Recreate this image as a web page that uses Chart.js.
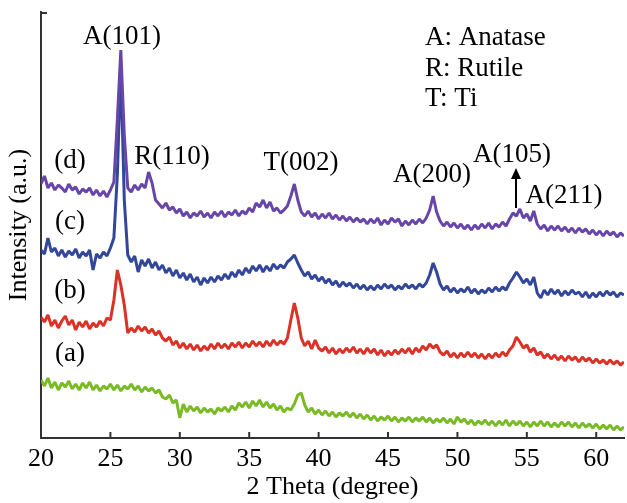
<!DOCTYPE html>
<html>
<head>
<meta charset="utf-8">
<script src="https://cdn.jsdelivr.net/npm/chart.js@4.4.1/dist/chart.umd.min.js"></script>
<style>
    body {
        margin: 0;
        background: #fff;
    }
</style>
</head>
<body>
<canvas id="xrdChart" width="627" height="503"></canvas>
<script>
// 2 theta positions (degree), one point every 0.25
let angles = [
    20, 20.25, 20.5, 20.75, 21, 21.25, 21.5, 21.75, 22, 22.25, 22.5, 22.75, 23, 23.25, 23.5, 23.75,
    24, 24.25, 24.5, 24.75, 25, 25.25, 25.5, 25.75, 26, 26.25, 26.5, 26.75, 27, 27.25, 27.5, 27.75,
    28, 28.25, 28.5, 28.75, 29, 29.25, 29.5, 29.75, 30, 30.25, 30.5, 30.75, 31, 31.25, 31.5, 31.75,
    32, 32.25, 32.5, 32.75, 33, 33.25, 33.5, 33.75, 34, 34.25, 34.5, 34.75, 35, 35.25, 35.5, 35.75,
    36, 36.25, 36.5, 36.75, 37, 37.25, 37.5, 37.75, 38, 38.25, 38.5, 38.75, 39, 39.25, 39.5, 39.75,
    40, 40.25, 40.5, 40.75, 41, 41.25, 41.5, 41.75, 42, 42.25, 42.5, 42.75, 43, 43.25, 43.5, 43.75,
    44, 44.25, 44.5, 44.75, 45, 45.25, 45.5, 45.75, 46, 46.25, 46.5, 46.75, 47, 47.25, 47.5, 47.75,
    48, 48.25, 48.5, 48.75, 49, 49.25, 49.5, 49.75, 50, 50.25, 50.5, 50.75, 51, 51.25, 51.5, 51.75,
    52, 52.25, 52.5, 52.75, 53, 53.25, 53.5, 53.75, 54, 54.25, 54.5, 54.75, 55, 55.25, 55.5, 55.75,
    56, 56.25, 56.5, 56.75, 57, 57.25, 57.5, 57.75, 58, 58.25, 58.5, 58.75, 59, 59.25, 59.5, 59.75,
    60, 60.25, 60.5, 60.75, 61, 61.25, 61.5, 61.75, 62
];

// intensities (a.u., curves already stacked with offsets)
let curveD = [
    254, 262, 250, 255, 248, 253, 250, 246, 254, 248, 251, 244, 249, 246, 250, 243,
    248, 242, 247, 241, 248, 256, 318, 388, 303, 250, 246, 253, 248, 254, 250, 266,
    255, 238, 234, 230, 235, 228, 231, 225, 229, 222, 226, 220, 225, 222, 227, 221,
    225, 220, 226, 222, 227, 221, 226, 223, 228, 222, 227, 224, 230, 226, 235, 231,
    238, 230, 236, 227, 230, 225, 228, 232, 242, 254, 238, 226, 222, 227, 221, 225,
    219, 224, 220, 225, 219, 223, 218, 222, 217, 221, 216, 220, 216, 219, 214, 219,
    215, 220, 213, 218, 214, 220, 216, 219, 212, 217, 213, 218, 214, 219, 215, 220,
    228, 242, 226, 217, 212, 216, 211, 215, 210, 214, 209, 213, 208, 213, 209, 214,
    210, 215, 209, 214, 211, 216, 212, 219, 225, 222, 229, 220, 224, 217, 227, 214,
    209, 213, 207, 212, 208, 212, 207, 211, 206, 210, 205, 210, 206, 209, 204, 208,
    203, 207, 202, 207, 203, 206, 201, 205, 202
];
let curveC = [
    188, 184, 200, 186, 190, 182, 188, 181, 187, 183, 189, 180, 186, 182, 188, 168,
    184, 180, 186, 182, 190, 200, 263, 373, 238, 183, 176, 182, 166, 178, 172, 179,
    170, 176, 168, 173, 165, 170, 162, 168, 160, 165, 158, 164, 156, 161, 153, 160,
    155, 161, 156, 162, 158, 164, 159, 166, 161, 168, 163, 170, 165, 172, 167, 173,
    166, 172, 167, 174, 169, 173, 170, 176, 179, 183, 175, 168, 162, 166, 159, 163,
    157, 161, 155, 159, 153, 157, 151, 156, 152, 155, 150, 154, 149, 153, 148, 152,
    148, 153, 149, 154, 150, 153, 148, 152, 149, 154, 150, 153, 149, 154, 151, 155,
    163, 175, 166, 154, 148, 152, 146, 150, 145, 149, 146, 151, 145, 149, 144, 148,
    145, 150, 146, 151, 147, 151, 148, 155, 160, 166, 161, 155, 159, 153, 161, 145,
    140, 148, 143, 149, 144, 148, 142, 147, 143, 148, 144, 146, 141, 146, 140, 145,
    141, 146, 142, 147, 143, 146, 141, 145, 143
];
let curveB = [
    121, 116, 123, 112, 118, 110, 117, 122, 113, 118, 108, 116, 111, 117, 109, 115,
    111, 117, 112, 120, 118, 138, 168, 153, 133, 105, 110, 106, 112, 107, 111, 105,
    109, 103, 107, 100, 97, 101, 93, 97, 90, 95, 89, 94, 88, 93, 87, 92,
    88, 94, 89, 95, 90, 94, 89, 95, 91, 96, 90, 95, 91, 97, 92, 96,
    91, 97, 92, 98, 93, 97, 94, 100, 118, 135, 120, 100, 92, 97, 89, 98,
    90, 87, 91, 85, 90, 84, 89, 85, 90, 86, 91, 85, 89, 84, 90, 85,
    89, 83, 88, 82, 87, 83, 88, 84, 89, 85, 90, 84, 90, 86, 92, 88,
    94, 90, 93, 86, 83, 87, 81, 85, 80, 85, 81, 86, 81, 85, 80, 84,
    79, 84, 80, 85, 81, 86, 82, 88, 92, 101, 96, 90, 93, 86, 90, 83,
    86, 80, 84, 79, 83, 78, 82, 77, 82, 78, 81, 76, 81, 77, 80, 75,
    79, 75, 78, 74, 78, 74, 77, 73, 76
];
let curveA = [
    58, 52, 60, 50, 56, 48, 55, 51, 57, 49, 54, 48, 55, 50, 56, 48,
    53, 47, 52, 49, 54, 48, 53, 47, 52, 49, 54, 48, 52, 46, 51, 47,
    50, 45, 48, 41, 39, 43, 35, 38, 20, 34, 26, 32, 27, 31, 25, 30,
    26, 29, 24, 30, 27, 31, 26, 32, 28, 35, 31, 36, 30, 37, 32, 38,
    31, 36, 30, 34, 28, 32, 26, 30, 28, 34, 43, 45, 33, 26, 30, 24,
    28, 23, 27, 22, 26, 21, 25, 22, 26, 21, 25, 20, 24, 19, 23, 18,
    22, 17, 21, 18, 22, 17, 21, 16, 20, 17, 21, 16, 20, 17, 21, 16,
    20, 15, 19, 16, 20, 15, 19, 14, 21, 16, 19, 14, 18, 13, 17, 14,
    18, 13, 17, 12, 17, 13, 18, 12, 17, 13, 17, 12, 16, 11, 16, 12,
    17, 12, 16, 11, 15, 11, 16, 12, 16, 11, 15, 10, 15, 11, 14, 10,
    14, 9, 13, 9, 13, 8, 12, 8, 11
];

let tickValues = [20, 25, 30, 35, 40, 45, 50, 55, 60];

// peak names and legend, placed in data units (degree, intensity)
let peakLabels = [
    { text: 'A(101)', x: 25.84, y: 401, align: 'center' },
    { text: 'R(110)', x: 29.44, y: 281, align: 'center' },
    { text: 'T(002)', x: 38.73, y: 275, align: 'center' },
    { text: 'A(200)', x: 48.17, y: 263, align: 'center' },
    { text: 'A(105)', x: 53.93, y: 283, align: 'center' },
    { text: 'A(211)', x: 57.68, y: 242, align: 'center' },
    { text: 'A: Anatase', x: 47.66, y: 400, align: 'left' },
    { text: 'R: Rutile', x: 47.66, y: 369, align: 'left' },
    { text: 'T: Ti', x: 47.66, y: 339, align: 'left' },
    { text: '(d)', x: 22.09, y: 277, align: 'center' },
    { text: '(c)', x: 22.09, y: 216, align: 'center' },
    { text: '(b)', x: 22.09, y: 147, align: 'center' },
    { text: '(a)', x: 22.09, y: 84, align: 'center' }
];
let arrowA105 = { x: 54.22, from: 230, to: 270 };

const FONT = 'Liberation Serif, Times New Roman, serif';

function toPoints(values) {
    let points = [];
    for (let i = 0; i < values.length; i++) {
        points.push({ x: angles[i], y: values[i] });
    }
    return points;
}

function lineSet(values, color) {
    return {
        data: toPoints(values),
        borderColor: color,
        backgroundColor: color,
        borderWidth: 3,
        borderJoinStyle: 'bevel',
        pointRadius: 0,
        tension: 0,
        fill: false
    };
}

/*---------------------------labels, arrow, inward ticks---------------------------*/

const decorPlugin = {
    id: 'decor',
    afterDraw(chart) {
        let ctx = chart.ctx;
        let xs = chart.scales.x;
        let ys = chart.scales.y;
        ctx.save();
        ctx.fillStyle = '#000';
        ctx.font = '27px ' + FONT;
        ctx.textBaseline = 'middle';
        peakLabels.forEach(l => {
            ctx.textAlign = l.align;
            ctx.fillText(l.text, xs.getPixelForValue(l.x), ys.getPixelForValue(l.y));
        });

        // arrow under A(105)
        let ax = xs.getPixelForValue(arrowA105.x);
        let ay1 = ys.getPixelForValue(arrowA105.from);
        let ay2 = ys.getPixelForValue(arrowA105.to);
        ctx.strokeStyle = '#000';
        ctx.lineWidth = 2;
        ctx.beginPath();
        ctx.moveTo(ax, ay1);
        ctx.lineTo(ax, ay2 + 8);
        ctx.stroke();
        ctx.beginPath();
        ctx.moveTo(ax, ay2);
        ctx.lineTo(ax - 5, ay2 + 11);
        ctx.lineTo(ax + 5, ay2 + 11);
        ctx.closePath();
        ctx.fill();

        // tick marks pointing into the plot
        ctx.strokeStyle = '#333';
        ctx.lineWidth = 2;
        let bottom = chart.chartArea.bottom;
        tickValues.forEach(v => {
            let px = xs.getPixelForValue(v);
            ctx.beginPath();
            ctx.moveTo(px, bottom);
            ctx.lineTo(px, bottom - 6);
            ctx.stroke();
        });
        let top = chart.chartArea.top;
        let left = chart.chartArea.left;
        ctx.beginPath();
        ctx.moveTo(left, top + 1);
        ctx.lineTo(left + 6, top + 1);
        ctx.stroke();
        ctx.restore();
    }
};

const config = {
    type: 'line',
    data: {
        datasets: [
            lineSet(curveD, 'rgb(104,70,168)'),
            lineSet(curveC, 'rgb(50,70,154)'),
            lineSet(curveB, 'rgb(218,50,38)'),
            lineSet(curveA, 'rgb(122,186,36)')
        ]
    },
    options: {
        responsive: false,
        animation: false,
        layout: {
            padding: { top: 12, right: 3, left: 0, bottom: 0 }
        },
        plugins: {
            legend: { display: false },
            tooltip: { enabled: false }
        },
        scales: {
            x: {
                type: 'linear',
                min: 20,
                max: 62,
                afterBuildTicks: scale => {
                    scale.ticks = tickValues.map(v => ({ value: v }));
                },
                afterFit: scale => {
                    scale.height = 65;
                },
                grid: { display: false, drawTicks: false },
                border: { color: '#333', width: 2 },
                ticks: {
                    color: '#000',
                    font: { family: FONT, size: 26 },
                    padding: 6,
                    maxRotation: 0,
                    autoSkip: false
                },
                title: {
                    display: true,
                    text: '2 Theta (degree)',
                    color: '#000',
                    font: { family: FONT, size: 26 },
                    padding: 0
                }
            },
            y: {
                min: 0,
                max: 426,
                afterFit: scale => {
                    scale.width = 41;
                },
                grid: { display: false, drawTicks: false },
                border: { color: '#333', width: 2 },
                ticks: { display: false },
                title: {
                    display: true,
                    text: 'Intensity (a.u.)',
                    color: '#000',
                    font: { family: FONT, size: 26 },
                    padding: { top: 4, bottom: 0 }
                }
            }
        }
    },
    plugins: [decorPlugin]
};

new Chart(document.getElementById('xrdChart'), config);
</script>
</body>
</html>
